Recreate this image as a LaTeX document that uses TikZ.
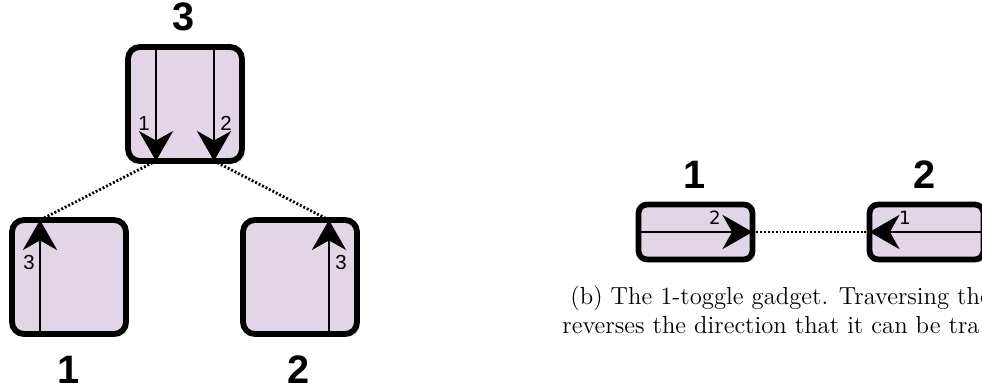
\documentclass[tikz,border=0pt]{standalone}
\usepackage{fontspec}
\usepackage{tikz}
\usetikzlibrary{arrows.meta, calc, shadows}
\newfontfamily\gadgetfont{Liberation Sans}
\newfontfamily\portfont{DejaVu Sans}
\definecolor{gadgetfill}{HTML}{E1D5E7}
\definecolor{gadgetshade}{HTML}{C4C4C4}

\begin{document}
\begin{tikzpicture}[
    x=0.466pt, y=-0.466pt,
    gadget/.style={rectangle, rounded corners=5.5pt, draw=black, line width=2.7pt, fill=gadgetfill, minimum width=53.1pt, minimum height=53.1pt, inner sep=0pt, outer sep=0pt, drop shadow={shadow xshift=1.4pt, shadow yshift=-1.4pt, fill=gadgetshade}},
    flat/.style={gadget, minimum height=25.6pt, rounded corners=4pt},
    num/.style={font=\gadgetfont\bfseries\fontsize{18.5}{20}\selectfont, inner sep=0pt},
    port/.style={font=\gadgetfont\fontsize{9.5}{10}\selectfont, inner sep=0pt},
    smallport/.style={font=\portfont\fontsize{8.5}{9}\selectfont, inner sep=0pt},
    trav/.style={-{Stealth[length=14pt, width=16pt, inset=4.5pt]}, line width=0.9pt},
    link/.style={line width=1.3pt, dash pattern=on 0.9pt off 0.9pt},
    caption/.style={font=\fontsize{11.5}{13.6}\selectfont, inner sep=0pt, anchor=base west}
]
\clip (0,0) rectangle (982,392);

% Tree of gadgets
\node[gadget] (g3) at (185,104) {};
\node[gadget] (g1) at (69,277) {};
\node[gadget] (g2) at (300,277) {};

\coordinate (g3a) at ($(g3.north)+(-29,0)$);
\coordinate (g3b) at ($(g3.south)+(-29,0)$);
\coordinate (g3c) at ($(g3.north)+(29,0)$);
\coordinate (g3d) at ($(g3.south)+(29,0)$);
\coordinate (g1a) at ($(g1.south)+(-29,0)$);
\coordinate (g1b) at ($(g1.north)+(-29,0)$);
\coordinate (g2a) at ($(g2.south)+(29,0)$);
\coordinate (g2b) at ($(g2.north)+(29,0)$);

\draw[trav] (g3a) -- (g3b);
\draw[trav] (g3c) -- (g3d);
\draw[trav] (g1a) -- (g1b);
\draw[trav] (g2a) -- (g2b);

\draw[link] (g3b) -- (g1b);
\draw[link] (g3d) -- (g2b);

\node[port] (p31) at (144,123) {1};
\node[port] (p32) at (226,123) {2};
\node[port] (p13) at (29,262) {3};
\node[port] (p23) at (341,262) {3};

\node[num] (n3) at (184,17) {3};
\node[num] (n1) at (69,370) {1};
\node[num] (n2) at (299,370) {2};

% 1-toggle
\node[flat] (t1) at (695.5,232) {};
\node[flat] (t2) at (926.5,232) {};

\draw[trav] (t1.west) -- (t1.east);
\draw[trav] (t2.east) -- (t2.west);
\draw[link] (t1.east) -- (t2.west);

\node[smallport] (q2) at (715,218) {2};
\node[smallport] (q1) at (905,218) {1};

\node[num] (m1) at (695,175) {1};
\node[num] (m2) at (925,175) {2};

% Caption
\node[caption] (cap1) at (570,305) {(b) The 1-toggle gadget. Traversing the};
\node[caption] (cap2) at (562,334) {reverses the direction that it can be tra};

\end{tikzpicture}
\end{document}
